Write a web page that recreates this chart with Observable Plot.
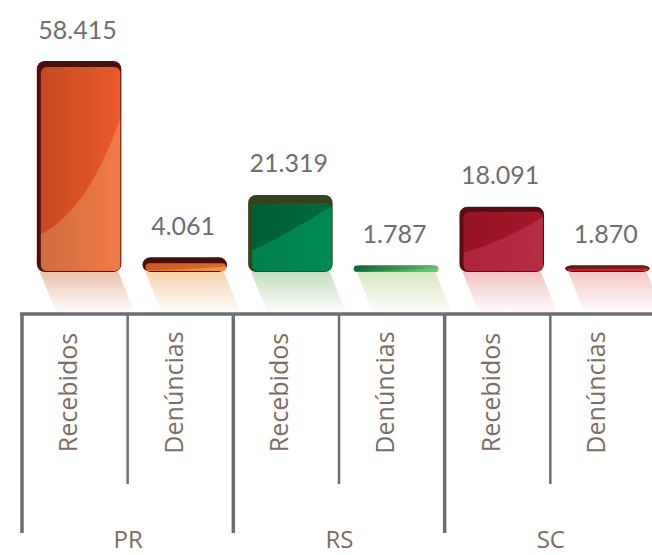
<!DOCTYPE html>
<html>
<head>
<meta charset="utf-8">
<script src="https://cdn.jsdelivr.net/npm/d3@7"></script>
<script src="https://cdn.jsdelivr.net/npm/@observablehq/plot@0.6"></script>
<style>
  html, body { margin: 0; padding: 0; background: #fff; }
  svg { display: block; }
</style>
</head>
<body>
<div id="chart"></div>
<script>
// ---- data ----
const states = ["PR", "RS", "SC"];
const kinds = ["Recebidos", "Denúncias"];
const recebidos = [58415, 21319, 18091];
const denuncias = [4061, 1787, 1870];

// ---- styles (kept apart from data) ----
const palette = {
  "PR-Recebidos": {dark: "#4d0f09", left: "#c44a21", right: "#eb5a2a", hiL: "#d06c3e", hiR: "#ef7c48", refl: "#e6b49a",
                   cap: 6, side: 4, aL: 0.82, aR: 0.25, c: [0.6, 0.7]},
  "PR-Denúncias": {dark: "#4a0e08", left: "#cd5b1c", right: "#de6a26", hiL: "#e0782e", hiR: "#ee9a4a", refl: "#f2c89c",
                   cap: 6, side: 3, aL: 0.9, aR: 0.4, c: [0.6, 0.75]},
  "RS-Recebidos": {dark: "#33441a", left: "#005f35", right: "#006c3d", hiL: "#00804b", hiR: "#008a55", refl: "#b8d6ae",
                   cap: 8, side: 4, aL: 0.7, aR: 0.05, c: [0.45, 0.45]},
  "RS-Denúncias": {dark: "#0b6b38", left: "#0a6a36", right: "#5abd68", hiL: "#2a8a48", hiR: "#6dca78", refl: "#cfe0ae",
                   cap: 0, side: 0, aL: 0.9, aR: 0.3, c: [0.6, 0.8]},
  "SC-Recebidos": {dark: "#5a0c10", left: "#951322", right: "#a3182a", hiL: "#ab2438", hiR: "#b52d42", refl: "#ebb4b4",
                   cap: 5, side: 4, aL: 0.69, aR: 0.1, c: [0.5, 0.5]},
  "SC-Denúncias": {dark: "#5a0c0c", left: "#6e1a10", right: "#7e2016", hiL: "#c0182a", hiR: "#d4202e", refl: "#f0baba",
                   cap: 1, side: 2, aL: 0.55, aR: 0.55, c: [0.5, 0.55]}
};
const axisColor = "#6d6e71";
const labelColor = "#7a6e63";
const valueColor = "#6d6e71";
const barIn = 0.14, barOut = 0.94;

// ---- table built from the arrays ----
const rows = states.flatMap((s, i) => kinds.map((k, j) => ({
  state: s, kind: k, slot: 2 * i + j,
  value: j === 0 ? recebidos[i] : denuncias[i],
  key: `${s}-${k}`
})));
const fmt = d3.formatLocale({decimal: ",", thousands: ".", grouping: [3], currency: ["", ""]}).format(",d");

// reflections under each bar
function reflections(index, {x, y}) {
  const g = d3.create("svg:g");
  const defs = g.append("defs");
  const base = y(0), H = 42, s = 0.4;
  rows.forEach((d, i) => {
    const st = palette[d.key];
    const id = `refl${i}`;
    const lg = defs.append("linearGradient").attr("id", id).attr("x1", 0).attr("x2", 0).attr("y1", 0).attr("y2", 1);
    lg.append("stop").attr("offset", 0).attr("stop-color", st.refl).attr("stop-opacity", 0.8);
    lg.append("stop").attr("offset", 1).attr("stop-color", st.refl).attr("stop-opacity", 0);
    const x0 = x(d.slot + barIn) + 3, x1 = x(d.slot + barOut) - 3;
    g.append("path")
      .attr("d", `M${x0},${base}L${x1},${base}L${x1 + s * H},${base + H}L${x0 + s * H},${base + H}Z`)
      .attr("fill", `url(#${id})`);
  });
  return g.node();
}

// glossy face + highlight on each bar
function faces(index, {x, y}) {
  const g = d3.create("svg:g");
  const defs = g.append("defs");
  const base = y(0);
  rows.forEach((d, i) => {
    const st = palette[d.key];
    const bx0 = x(d.slot + barIn), bx1 = x(d.slot + barOut), by0 = y(d.value);
    const h = base - by0;
    const cap = Math.min(st.cap, h * 0.45);
    const fx0 = bx0 + st.side, fx1 = bx1 - (st.side ? 1 : 0);
    const fy0 = by0 + cap, fy1 = base - (st.cap ? 1 : 0);
    const fw = fx1 - fx0, fh = fy1 - fy0;
    const rr = Math.min(6, fh / 2);
    const gf = defs.append("linearGradient").attr("id", `face${i}`);
    gf.append("stop").attr("offset", 0).attr("stop-color", st.left);
    gf.append("stop").attr("offset", 1).attr("stop-color", st.right);
    const gh = defs.append("linearGradient").attr("id", `hi${i}`);
    gh.append("stop").attr("offset", 0).attr("stop-color", st.hiL);
    gh.append("stop").attr("offset", 1).attr("stop-color", st.hiR);
    defs.append("clipPath").attr("id", `clip${i}`)
      .append("rect").attr("x", fx0).attr("y", fy0).attr("width", fw).attr("height", fh).attr("rx", rr);
    g.append("rect").attr("x", fx0).attr("y", fy0).attr("width", fw).attr("height", fh).attr("rx", rr)
      .attr("fill", `url(#face${i})`);
    const pL = [fx0, fy0 + st.aL * fh], pR = [fx1, fy0 + st.aR * fh];
    const c = [fx0 + st.c[0] * fw, fy0 + st.c[1] * fh];
    g.append("path")
      .attr("clip-path", `url(#clip${i})`)
      .attr("d", `M${pL[0]},${pL[1]}Q${c[0]},${c[1]} ${pR[0]},${pR[1]}L${fx1},${fy1}L${fx0},${fy1}Z`)
      .attr("fill", `url(#hi${i})`);
  });
  return g.node();
}

// category axis: horizontal line with group and sub-group separators
function axisDecor(index, {x, y}) {
  const g = d3.create("svg:g").attr("stroke", axisColor).attr("fill", "none");
  const base = y(0);
  const top = base + 42;
  g.append("line").attr("x1", x(0) - 2).attr("x2", x(rows.length)).attr("y1", top).attr("y2", top)
    .attr("stroke-width", 3.5);
  states.forEach((s, i) => {
    g.append("line").attr("x1", x(2 * i)).attr("x2", x(2 * i)).attr("y1", top).attr("y2", base + 261)
      .attr("stroke-width", 3.5);
    g.append("line").attr("x1", x(2 * i + 1)).attr("x2", x(2 * i + 1)).attr("y1", top).attr("y2", base + 212)
      .attr("stroke-width", 2.5);
  });
  return g.node();
}

const barMarks = rows.map(d => Plot.rect([d], {
  x1: r => r.slot + barIn, x2: r => r.slot + barOut,
  y1: () => 0, y2: "value",
  fill: palette[d.key].dark, rx: 8
}));

const chart = Plot.plot({
  width: 652,
  height: 555,
  margin: 0,
  x: {type: "linear", domain: [0, rows.length], range: [22, 656], axis: null},
  y: {type: "linear", domain: [0, d3.max(recebidos)], range: [272, 61], axis: null},
  marks: [
    reflections,
    ...barMarks,
    faces,
    axisDecor,
    Plot.text(rows, {
      x: d => d.slot + 0.52, y: "value", text: d => fmt(d.value),
      dy: -23, lineAnchor: "bottom",
      fontSize: 25, fontWeight: 400, fontFamily: "Lato, 'Open Sans', sans-serif", fill: valueColor
    }),
    Plot.text(rows, {
      x: d => d.slot + 0.44, y: () => 0, text: "kind", rotate: -90, dy: 120,
      fontSize: 25, fontFamily: "'Open Sans', sans-serif", fill: labelColor
    }),
    Plot.text(states, {
      x: (d, i) => 2 * i + 1, y: () => 0, text: d => d, dy: 275, lineAnchor: "bottom",
      fontSize: 24, fontFamily: "'Open Sans', sans-serif", fill: labelColor
    })
  ]
});
document.getElementById("chart").append(chart);
</script>
</body>
</html>
